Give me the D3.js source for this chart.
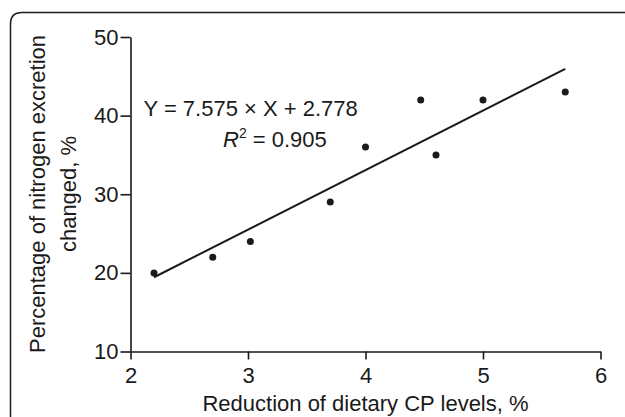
<!DOCTYPE html>
<html>
<head>
<meta charset="utf-8">
<script src="https://cdn.jsdelivr.net/npm/d3@7"></script>
<style>
  body { margin: 0; background: #fff; }
  text { font-family: "Liberation Sans", Arial, sans-serif; fill: #1a1a1a; }
</style>
</head>
<body>
<script>
var cpReduction = [2.2, 2.7, 3.02, 3.7, 4.0, 4.47, 4.6, 5.0, 5.7];
var nChanged = [20, 22, 24, 29, 36, 42, 35, 42, 43];
var xTicks = [2, 3, 4, 5, 6];
var yTicks = [10, 20, 30, 40, 50];
var slope = 7.575, intercept = 2.778;

var width = 625, height = 417;
var svg = d3.select("body").append("svg").attr("width", width).attr("height", height);

// frame with rounded top-left corner
svg.append("path")
  .attr("d", "M10.5,417 L10.5,24 Q10.5,12.5 22,12.5 L625,12.5")
  .attr("fill", "none").attr("stroke", "#1a1a1a").attr("stroke-width", 1.5);

var x = d3.scaleLinear().domain([2, 6]).range([130.5, 600.5]);
var y = d3.scaleLinear().domain([10, 50]).range([351.5, 37]);

var xAxis = svg.append("g").attr("transform", "translate(0," + y(10) + ")")
  .call(d3.axisBottom(x).tickValues(xTicks).tickFormat(d3.format("d"))
    .tickSize(8).tickPadding(8).tickSizeOuter(0));
var yAxis = svg.append("g").attr("transform", "translate(" + x(2) + ",0)")
  .call(d3.axisLeft(y).tickValues(yTicks).tickFormat(d3.format("d"))
    .tickSize(10).tickPadding(2).tickSizeOuter(0));
[xAxis, yAxis].forEach(function (g) {
  g.select(".domain").attr("stroke", "#1a1a1a").attr("stroke-width", 1.6);
  g.selectAll(".tick line").attr("stroke", "#1a1a1a").attr("stroke-width", 1.6);
  g.selectAll(".tick text").attr("font-size", 22).attr("fill", "#1a1a1a")
    .style("font-family", "'Liberation Sans', Arial, sans-serif");
});

// regression line
var x0 = d3.min(cpReduction), x1 = d3.max(cpReduction);
svg.append("line")
  .attr("x1", x(x0)).attr("y1", y(slope * x0 + intercept))
  .attr("x2", x(x1)).attr("y2", y(slope * x1 + intercept))
  .attr("stroke", "#1a1a1a").attr("stroke-width", 2);

svg.selectAll("circle.pt").data(cpReduction).enter().append("circle")
  .attr("class", "pt")
  .attr("cx", function (d) { return x(d); })
  .attr("cy", function (d, i) { return y(nChanged[i]); })
  .attr("r", 3.5).attr("fill", "#1a1a1a");

// equation
svg.append("text").attr("x", 143.5).attr("y", 115.5).attr("font-size", 22)
  .text("Y = 7.575 × X + 2.778");
var r2 = svg.append("text").attr("x", 223).attr("y", 146.5).attr("font-size", 22);
r2.append("tspan").attr("font-style", "italic").text("R");
r2.append("tspan").attr("font-size", 14).attr("dy", -9).text("2");
r2.append("tspan").attr("dy", 9).text(" = 0.905");

// axis titles
svg.append("text").attr("x", 365.5).attr("y", 411).attr("text-anchor", "middle")
  .attr("font-size", 22).text("Reduction of dietary CP levels, %");
var yt = svg.append("text").attr("transform", "translate(0,194) rotate(-90)")
  .attr("text-anchor", "middle").attr("font-size", 22);
yt.append("tspan").attr("x", 0).attr("y", 45).text("Percentage of nitrogen excretion");
yt.append("tspan").attr("x", 0).attr("y", 76).text("changed, %");
</script>
</body>
</html>
